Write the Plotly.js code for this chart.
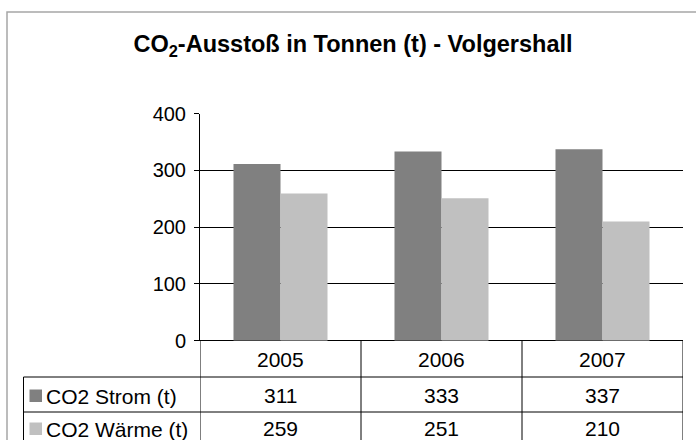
<!DOCTYPE html>
<html><head><meta charset="utf-8">
<script src="https://cdn.plot.ly/plotly-3.0.1.min.js"></script>
<style>html,body{margin:0;padding:0;background:#fff}#c{width:696px;height:440px}</style>
</head><body><div id="c"></div>
<script>
const years = ['2005', '2006', '2007'];
const seriesNames = ['CO2 Strom (t)', 'CO2 Wärme (t)'];
const strom = [311, 333, 337];
const waerme = [259, 251, 210];
const colors = ['#808080', '#c0c0c0'];
const yTicks = [0, 100, 200, 300, 400];

const W = 696, H = 440;
const py = p => 1 - p / H;
const px = p => p / W;
const FONT = 'Liberation Sans, Arial, sans-serif';

const idx = years.map((_, i) => i);
const traces = [strom, waerme].map((vals, s) => ({
  type: 'bar', x: idx, y: vals, name: seriesNames[s],
  marker: {color: colors[s], line: {width: 0}}, hoverinfo: 'skip'
}));

const lineC = '#000000';
const shapes = [];
// outer chart border
shapes.push({type:'rect', xref:'paper', yref:'paper', x0:px(7), x1:1.02, y0:-0.02, y1:py(12),
  line:{color:'#a6a6a6', width:1.5}, fillcolor:'rgba(0,0,0,0)'});
// table vertical lines at category boundaries
const bounds = [-0.5, 0.5, 1.5, 2.5];
bounds.forEach(b => shapes.push({type:'line', xref:'x', yref:'paper', x0:b, x1:b, y0:py(341), y1:py(445), line:{color:lineC, width:1}}));
// table left edge
shapes.push({type:'line', xref:'paper', yref:'paper', x0:px(23.5), x1:px(23.5), y0:py(377), y1:py(445), line:{color:lineC, width:1}});
// row lines
[377, 412].forEach(r => shapes.push({type:'line', xref:'paper', yref:'paper', x0:px(23.5), x1:px(683), y0:py(r), y1:py(r), line:{color:lineC, width:1}}));
// legend keys
const rowY = [395, 428];
rowY.forEach((ry, s) => shapes.push({type:'rect', xref:'paper', yref:'paper', x0:px(29.5), x1:px(42), y0:py(ry+7), y1:py(ry-5.5), line:{width:0}, fillcolor:colors[s]}));

const annotations = [];
years.forEach((yv, i) => annotations.push({xref:'x', yref:'paper', x:i, y:py(359), text:yv, showarrow:false, xanchor:'center', yanchor:'middle', font:{family:FONT, size:21, color:'#000'}}));
[strom, waerme].forEach((vals, s) => {
  vals.forEach((v, i) => annotations.push({xref:'x', yref:'paper', x:i, y:py(rowY[s]), text:String(v), showarrow:false, xanchor:'center', yanchor:'middle', font:{family:FONT, size:21, color:'#000'}}));
  annotations.push({xref:'paper', yref:'paper', x:px(44), y:py(rowY[s]+1), text:seriesNames[s], showarrow:false, xanchor:'left', yanchor:'middle', font:{family:FONT, size:21, color:'#000'}});
});

const layout = {
  width: W, height: H, margin: {l:0, r:0, t:0, b:0},
  paper_bgcolor: '#fff', plot_bgcolor: '#fff', showlegend: false,
  barmode: 'group', bargap: 0.416, bargroupgap: 0,
  title: {text: '<b>CO<sub>2</sub>-Ausstoß in Tonnen (t) - Volgershall</b>', x: px(353), xanchor: 'center', y: py(44), yanchor: 'middle', font: {family: FONT, size: 23.5, color: '#000'}},
  xaxis: {domain: [px(200), px(683)], range: [-0.5, 2.5], showticklabels: false, ticks: '', showgrid: false, zeroline: false, showline: false, fixedrange: true},
  yaxis: {domain: [py(340.7), py(113.5)], range: [0, 400], tickvals: yTicks, ticktext: yTicks.map(String), ticks: 'outside', ticklen: 5, tickcolor: '#000', tickwidth: 1,
    showgrid: true, gridcolor: '#000', gridwidth: 1, zeroline: true, zerolinecolor: '#000', zerolinewidth: 1, showline: true, linecolor: '#000', linewidth: 1,
    tickfont: {family: FONT, size: 20, color: '#000'}, ticklabelstandoff: 4, fixedrange: true},
  shapes: shapes, annotations: annotations
};
Plotly.newPlot('c', traces, layout, {displayModeBar: false, staticPlot: true});
</script></body></html>
